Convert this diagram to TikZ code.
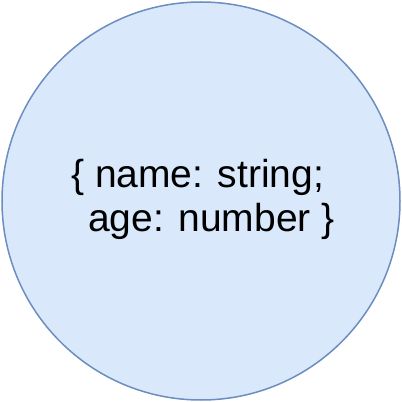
\documentclass[tikz,border=0pt]{standalone}
\usepackage{fontspec}
\setmainfont{Liberation Sans}
\definecolor{blobfill}{HTML}{DAE8FC}
\definecolor{blobdraw}{HTML}{6C8EBF}
\tikzset{
  typeblob/.style={circle, fill=blobfill, draw=blobdraw, line width=1.5pt,
    minimum size=398pt, inner sep=0pt},
  typetext/.style={align=left, font=\fontsize{39}{44}\selectfont, inner sep=0pt}
}
\begin{document}
\begin{tikzpicture}[x=1pt,y=1pt]
  \useasboundingbox (0,0) rectangle (402,402);
  \node[typeblob] (blob) at (201,201) {};
  \node[typetext, anchor=base west] (record) at (71,170)
    {\{ name: string;\\\hspace*{17pt}age: number \}};
\end{tikzpicture}
\end{document}
